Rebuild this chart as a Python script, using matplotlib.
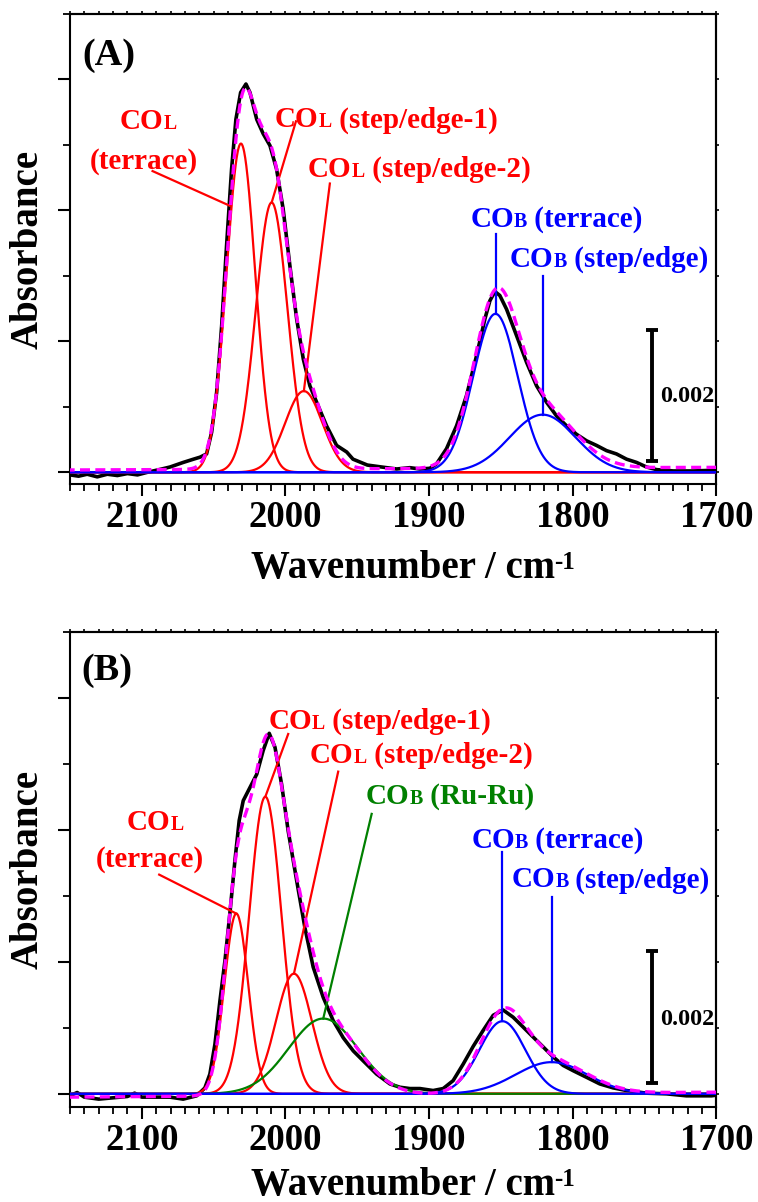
import numpy as np
import matplotlib
matplotlib.use("Agg")
import matplotlib.pyplot as plt
from matplotlib.ticker import MultipleLocator, NullFormatter

plt.rcParams['font.family'] = ['Liberation Serif', 'DejaVu Serif']
plt.rcParams['font.weight'] = 'bold'
plt.rcParams['axes.linewidth'] = 1.5

# ---------------- data ----------------
x_ticks = [2100, 2000, 1900, 1800, 1700]

# Panel A: measured spectrum (wavenumber, absorbance x1e-3)
a_wn = [2150, 2144, 2138, 2131, 2124, 2117, 2110, 2103, 2096, 2088, 2080.4, 2071.2, 2064,
        2059.5, 2054.9, 2051.4, 2047.9, 2044.4, 2041, 2037.5, 2034.5, 2031.2, 2027.5, 2024.7,
        2020, 2015.5, 2010.8, 2006.2, 2001.6, 1996.9, 1992.2, 1987.6, 1983, 1978.3, 1971.4,
        1964.4, 1957.4, 1953, 1943, 1933, 1922.6, 1913.4, 1906.4, 1899.5, 1894.8, 1887.9,
        1880.9, 1874, 1867, 1861.2, 1857.7, 1854.2, 1850.8, 1846.1, 1839.2, 1832.2, 1825.2,
        1818.3, 1811.3, 1804.4, 1797.4, 1790.4, 1783.5, 1776.5, 1769.6, 1762.6, 1755.6,
        1748.7, 1741.7, 1730, 1716, 1702.3, 1700]
a_abs = [-0.04, -0.06, -0.03, -0.07, -0.03, -0.05, -0.02, -0.04, 0.00, 0.04, 0.08, 0.15, 0.20,
         0.23, 0.28, 0.61, 1.22, 2.24, 3.46, 4.63, 5.39, 5.80, 5.93, 5.80,
         5.39, 5.17, 4.99, 4.63, 4.02, 3.15, 2.34, 1.73, 1.32, 1.07, 0.71,
         0.41, 0.31, 0.20, 0.11, 0.08, 0.05, 0.07, 0.05, 0.06, 0.13, 0.36,
         0.71, 1.17, 1.78, 2.34, 2.62, 2.76, 2.70, 2.49, 2.09, 1.68, 1.32,
         1.07, 0.86, 0.71, 0.58, 0.48, 0.41, 0.33, 0.28, 0.20, 0.15,
         0.08, 0.04, 0.02, 0.02, 0.03, 0.02]
# Panel A fitted Gaussian components
a_centers = [2031.0, 2009.6, 1987.2, 1853.8, 1821.0]
a_heights = [5.02, 4.12, 1.24, 2.42, 0.88]     # x1e-3
a_sigmas = [10.0, 11.0, 13.0, 15.5, 23.0]
a_colors = ['#FF0000', '#FF0000', '#FF0000', '#0000FF', '#0000FF']
a_baseline = [0.035, 0.075]                   # at 2150 and 1700, x1e-3

# Panel B: measured spectrum
b_wn = [2150, 2145, 2140, 2130, 2120, 2110, 2105, 2100, 2094.3, 2080.4, 2071.2, 2061.8, 2056.1,
        2052.6, 2049.1, 2045.6, 2042.1, 2038.7, 2035.2, 2032.2, 2029.4, 2024.7, 2020, 2015.5,
        2011.3, 2007.3, 2002.7, 1998.1, 1992.2, 1986.5, 1980.7, 1973.7, 1966.8, 1959.8,
        1952.8, 1945.9, 1936.6, 1927.3, 1920.4, 1913.4, 1906.4, 1897.2, 1890.2, 1883.3,
        1876.3, 1869.3, 1862.4, 1855.4, 1848.5, 1841.5, 1834.5, 1827.6, 1820.6, 1813.7,
        1806.7, 1799.7, 1790.4, 1781.2, 1771.9, 1762.6, 1748.7, 1734.8, 1720.9, 1703.4, 1700]
b_abs = [-0.03, 0.02, -0.05, -0.08, -0.06, -0.04, 0.01, -0.05, -0.05, -0.05, -0.08, -0.03, 0.09,
         0.30, 0.75, 1.41, 2.02, 2.73, 3.53, 4.14, 4.44, 4.64, 4.84, 5.20,
         5.46, 5.25, 4.69, 3.98, 3.23, 2.52, 1.92, 1.46, 1.11, 0.85,
         0.65, 0.50, 0.30, 0.15, 0.10, 0.08, 0.08, 0.05, 0.08, 0.20,
         0.45, 0.72, 0.96, 1.19, 1.27, 1.16, 1.01, 0.86, 0.71, 0.56,
         0.43, 0.35, 0.25, 0.15, 0.09, 0.05, 0.01, 0.00, -0.03, -0.03, -0.02]
b_centers = [2034.2, 2014.0, 1994.1, 1973.7, 1849.0, 1814.8]
b_heights = [2.73, 4.50, 1.82, 1.14, 1.10, 0.48]
b_sigmas = [8.3, 11.2, 12.5, 24.0, 16.0, 25.0]
b_colors = ['#FF0000', '#FF0000', '#FF0000', '#008000', '#0000FF', '#0000FF']
b_baseline = [-0.05, 0.025]

RED, BLUE, GREEN = '#FF0000', '#0000FF', '#008000'
MAG = '#FF00FF'


def gauss(x, c, h, s):
    return h * np.exp(-(x - c) ** 2 / (2.0 * s ** 2))


def co_label(ax, x, y, sub, rest, color, fs=21):
    t1 = ax.text(x, y, "CO", color=color, fontsize=fs, fontweight='bold',
                 ha='left', va='baseline', zorder=6)
    t2 = ax.annotate(sub, xy=(1, y), xycoords=(t1, 'data'), color=color,
                     fontsize=fs * 0.68, fontweight='bold', ha='left',
                     va='baseline', zorder=6)
    if rest:
        ax.annotate(rest, xy=(1, y), xycoords=(t2, 'data'), color=color,
                    fontsize=fs, fontweight='bold', ha='left', va='baseline',
                    zorder=6)


def style_axes(ax, ylow, label_y):
    ax.set_xlim(2150, 1700)
    ax.set_ylim(ylow, 0.007)
    ax.xaxis.set_major_locator(MultipleLocator(100))
    ax.xaxis.set_minor_locator(MultipleLocator(10))
    ax.yaxis.set_major_locator(MultipleLocator(0.002))
    ax.yaxis.set_minor_locator(MultipleLocator(0.001))
    ax.set_xticks(x_ticks)
    ax.set_xticklabels([str(t) for t in x_ticks])
    ax.tick_params(axis='both', which='major', direction='out', length=8.5,
                   width=1.5, labelsize=26.5, pad=3, top=False, right=False)
    ax.tick_params(axis='both', which='minor', direction='out', length=5,
                   width=1.3, top=False, right=False)
    ax.tick_params(axis='y', labelleft=False)
    for lab in ax.get_xticklabels():
        lab.set_fontweight('bold')
    sx = ax.secondary_xaxis('top')
    sx.xaxis.set_major_locator(MultipleLocator(100))
    sx.xaxis.set_minor_locator(MultipleLocator(10))
    sx.xaxis.set_major_formatter(NullFormatter())
    sx.tick_params(which='both', direction='out', length=2.5, width=1.2)
    sy = ax.secondary_yaxis('right')
    sy.yaxis.set_major_locator(MultipleLocator(0.002))
    sy.yaxis.set_minor_locator(MultipleLocator(0.001))
    sy.yaxis.set_major_formatter(NullFormatter())
    sy.tick_params(which='both', direction='out', length=2.5, width=1.2)
    ax.set_ylabel("Absorbance", fontsize=28, fontweight='bold', va='center')
    ax.yaxis.set_label_coords(-0.0642, 0.5)
    ax.set_xlabel("Wavenumber / cm", fontsize=28, fontweight='bold')
    ax.xaxis.label.set_va('baseline')
    ax.xaxis.set_label_coords(0.5145, label_y)
    ax.annotate("-1", xy=(1.0, 0.98), xycoords=ax.xaxis.label, fontsize=18,
                fontweight='bold', ha='left', va='top')


def draw_panel(ax, wn, ab, centers, heights, sigmas, colors, baseline):
    grid = np.linspace(1700, 2150, 1801)
    ax.plot(np.array(wn), np.array(ab) * 1e-3, color='black', lw=2.6, zorder=2,
            solid_joinstyle='round')
    total = np.interp(grid, [1700, 2150], [baseline[1], baseline[0]]) * 1e-3
    order = sorted(range(len(centers)), key=lambda i: {RED: 0, GREEN: 1, BLUE: 2}[colors[i]])
    for i in order:
        comp = gauss(grid, centers[i], heights[i] * 1e-3, sigmas[i])
        total = total + comp
        ax.plot(grid, comp, color=colors[i], lw=1.6, zorder=3)
    ax.plot(grid, total, color=MAG, lw=2.4, ls=(0, (3, 1.6)), zorder=4)


def scale_bar(ax, x, y0, y1, ytext):
    ax.plot([x, x], [y0, y1], color='black', lw=2.8, zorder=5, solid_capstyle='butt')
    ax.plot([x, x], [y0, y1], ls='none', marker='_', ms=8, mew=2.8, color='black', zorder=5)
    ax.text(x - 5.5, ytext, "0.002", fontsize=17.5, fontweight='bold',
            ha='left', va='baseline', zorder=6)


fig = plt.figure(figsize=(7.58, 12.02), dpi=100)
axA = fig.add_axes([0.0923, 0.5973, 0.8529, 0.3911])
axB = fig.add_axes([0.0923, 0.0790, 0.8529, 0.3955])

# ---------------- Panel A ----------------
draw_panel(axA, a_wn, a_abs, a_centers, a_heights, a_sigmas, a_colors, a_baseline)
style_axes(axA, -0.00018, -0.200)
axA.text(2141.6, 6.37e-3, "(A)", fontsize=27.5, fontweight='bold', ha='left', va='center')

co_label(axA, 2115.2, 5.25e-3, "L", None, RED)
axA.text(2098.5, 4.63e-3, "(terrace)", color=RED, fontsize=21, fontweight='bold',
         ha='center', va='baseline', zorder=6)
co_label(axA, 2007.3, 5.27e-3, "L", " (step/edge-1)", RED)
co_label(axA, 1984.4, 4.51e-3, "L", " (step/edge-2)", RED)
co_label(axA, 1871.2, 3.745e-3, "B", " (terrace)", BLUE)
co_label(axA, 1843.8, 3.134e-3, "B", " (step/edge)", BLUE)

lk = dict(lw=1.6, zorder=3)
axA.plot([2092.5, 2038.7], [4.60e-3, 4.07e-3], color=RED, **lk)
axA.plot([1992.7, a_centers[1]], [5.36e-3, a_heights[1] * 1e-3], color=RED, **lk)
axA.plot([1969.1, a_centers[2]], [4.41e-3, a_heights[2] * 1e-3], color=RED, **lk)
axA.plot([a_centers[3], a_centers[3]], [3.64e-3, a_heights[3] * 1e-3], color=BLUE, **lk)
axA.plot([a_centers[4], a_centers[4]], [3.00e-3, a_heights[4] * 1e-3], color=BLUE, **lk)
scale_bar(axA, 1745, 0.00017, 0.00217, 1.07e-3)

# ---------------- Panel B ----------------
draw_panel(axB, b_wn, b_abs, b_centers, b_heights, b_sigmas, b_colors, b_baseline)
style_axes(axB, -0.0002, -0.185)
axB.text(2141.9, 6.41e-3, "(B)", fontsize=27.5, fontweight='bold', ha='left', va='center')

co_label(axB, 2110.5, 4.00e-3, "L", None, RED)
axB.text(2094.3, 3.44e-3, "(terrace)", color=RED, fontsize=21, fontweight='bold',
         ha='center', va='baseline', zorder=6)
co_label(axB, 2012.0, 5.53e-3, "L", " (step/edge-1)", RED)
co_label(axB, 1983.0, 5.01e-3, "L", " (step/edge-2)", RED)
co_label(axB, 1944.0, 4.39e-3, "B", " (Ru-Ru)", GREEN)
co_label(axB, 1870.5, 3.73e-3, "B", " (terrace)", BLUE)
co_label(axB, 1842.6, 3.13e-3, "B", " (step/edge)", BLUE)

axB.plot([2087.9, b_centers[0]], [3.32e-3, b_heights[0] * 1e-3], color=RED, **lk)
axB.plot([1998.1, b_centers[1]], [5.45e-3, b_heights[1] * 1e-3], color=RED, **lk)
axB.plot([1963.3, b_centers[2]], [4.88e-3, b_heights[2] * 1e-3], color=RED, **lk)
axB.plot([1940.0, b_centers[3]], [4.24e-3, b_heights[3] * 1e-3], color=GREEN, **lk)
axB.plot([b_centers[4], b_centers[4]], [3.66e-3, b_heights[4] * 1e-3], color=BLUE, **lk)
axB.plot([b_centers[5], b_centers[5]], [2.98e-3, b_heights[5] * 1e-3], color=BLUE, **lk)
scale_bar(axB, 1745, 0.00017, 0.00217, 1.05e-3)

fig.savefig("out.png", dpi=100)
